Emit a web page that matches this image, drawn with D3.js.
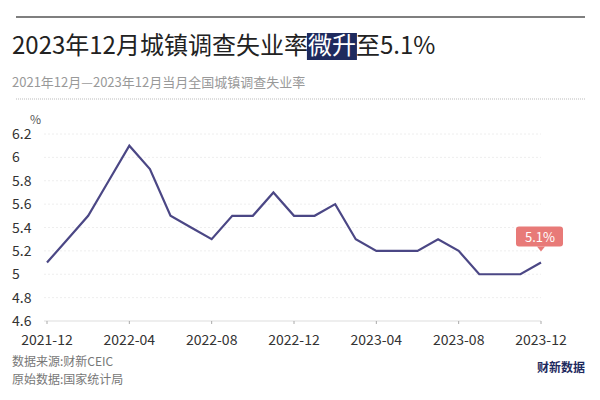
<!DOCTYPE html><html><head><meta charset="utf-8"><script src="https://cdn.jsdelivr.net/npm/d3@7"></script>
<style>body{margin:0;background:#fff}svg{font-family:"Noto Sans CJK SC","Noto Sans",sans-serif}</style></head><body>
<svg id="c" width="600" height="400"></svg>
<script>
const months=["2021-12","2022-01","2022-02","2022-03","2022-04","2022-05","2022-06","2022-07","2022-08","2022-09","2022-10","2022-11","2022-12","2023-01","2023-02","2023-03","2023-04","2023-05","2023-06","2023-07","2023-08","2023-09","2023-10","2023-11","2023-12"];
const rates=[5.1,5.3,5.5,5.8,6.1,5.9,5.5,5.4,5.3,5.5,5.5,5.7,5.5,5.5,5.6,5.3,5.2,5.2,5.2,5.3,5.2,5.0,5.0,5.0,5.1];
const xTicks=["2021-12","2022-04","2022-08","2022-12","2023-04","2023-08","2023-12"];
const yTicks=[4.6,4.8,5,5.2,5.4,5.6,5.8,6,6.2];
const svg=d3.select("#c");
svg.append("line").attr("x1",16).attr("x2",585).attr("y1",17).attr("y2",17).attr("stroke","#555").attr("stroke-width",1.5);
const hl=svg.append("rect").attr("fill","#1e2a5e");
const t=svg.append("text").attr("x",12).attr("y",54).attr("font-size",24).attr("fill","#222").attr("font-family","'Noto Sans CJK SC'");
t.append("tspan").text("2023年12月城镇调查失业率");
const mid=t.append("tspan").attr("fill","#fff").text("微升");
t.append("tspan").text("至5.1%");
const b=mid.node().getBBox();
hl.attr("x",b.x-1).attr("y",33).attr("width",b.width+2).attr("height",27);
svg.append("text").attr("x",12).attr("y",87).attr("font-size",13).attr("fill","#999").text("2021年12月—2023年12月当月全国城镇调查失业率");
svg.append("line").attr("x1",16).attr("x2",585).attr("y1",99).attr("y2",99).attr("stroke","#bbb").attr("stroke-dasharray","1,1");
const x=d3.scalePoint().domain(months).range([47,541]);
const y=d3.scaleLinear().domain([4.6,6.2]).range([321,134]);
const g=svg.append("g");
yTicks.forEach(v=>{
 g.append("line").attr("x1",44).attr("x2",541).attr("y1",y(v)).attr("y2",y(v)).attr("stroke",v===4.6?"#ddd":"#eee").attr("stroke-dasharray",v===4.6?null:"2,2");
 g.append("text").attr("x",12).attr("y",y(v)+5).attr("font-size",14).attr("fill","#333").text(d3.format("")(v));
});
svg.append("text").attr("x",30).attr("y",124).attr("font-size",12).attr("fill","#555").text("%");
xTicks.forEach(m=>{
 g.append("line").attr("x1",x(m)).attr("x2",x(m)).attr("y1",321).attr("y2",324).attr("stroke","#aaa");
 g.append("text").attr("x",x(m)).attr("y",345).attr("text-anchor","middle").attr("font-size",14).attr("fill","#333").text(m);
});
g.append("path").datum(rates).attr("fill","none").attr("stroke","#4b4785").attr("stroke-width",2.2)
 .attr("d",d3.line().x((d,i)=>x(months[i])).y(d=>y(d)));
const lx=x(months[24]),ly=y(rates[24]);
svg.append("rect").attr("x",lx-25).attr("y",ly-36).attr("width",47).attr("height",20).attr("rx",3).attr("fill","#e87a78");
svg.append("path").attr("d",`M${lx-4},${ly-16}L${lx},${ly-11}L${lx+4},${ly-16}Z`).attr("fill","#e87a78");
svg.append("text").attr("x",lx-1).attr("y",ly-21).attr("text-anchor","middle").attr("font-size",13).attr("fill","#fff").text("5.1%");
svg.append("text").attr("x",12).attr("y",366).attr("font-size",12).attr("fill","#777").text("数据来源:财新CEIC");
svg.append("text").attr("x",12).attr("y",384).attr("font-size",12).attr("fill","#777").text("原始数据:国家统计局");
svg.append("text").attr("x",585).attr("y",372).attr("text-anchor","end").attr("font-size",12).attr("font-weight","bold").attr("fill","#1e2a5e").text("财新数据");
</script></body></html>
